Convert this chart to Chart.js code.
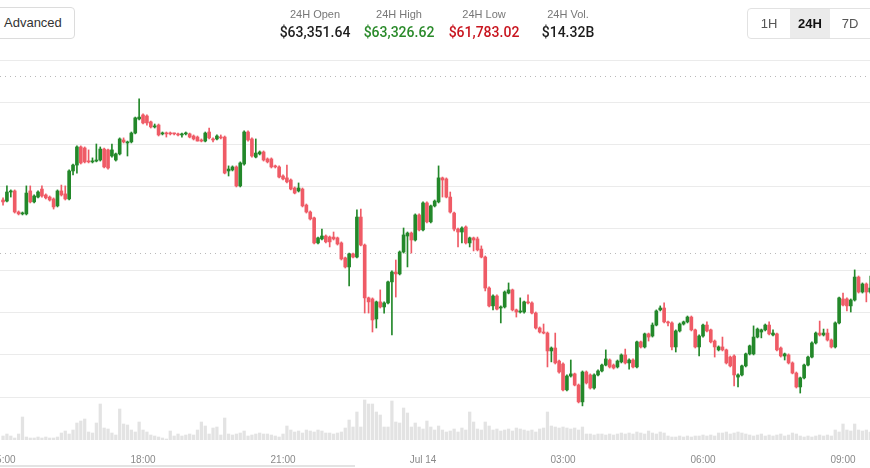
<!DOCTYPE html>
<html>
<head>
<meta charset="utf-8">
<script src="https://cdn.jsdelivr.net/npm/chart.js@4.4.1/dist/chart.umd.min.js"></script>
<style>
  body { margin: 0; background: #fff; font-family: 'Liberation Sans', Arial, Helvetica, sans-serif; }
  #wrap { position: relative; width: 870px; height: 468px; overflow: hidden; }
  #chart { position: absolute; left: 0; top: 0; }
  .btn-adv { position: absolute; left: -10px; top: 7px; width: 85px; height: 32px; box-sizing: border-box;
    border: 1px solid #dcdcdc; border-radius: 4px; background: #fff; color: #333; font-size: 13px;
    line-height: 30px; padding-left: 13px; }
  .stat { position: absolute; top: 0; width: 120px; text-align: center; }
  .stat .lbl { position: absolute; left: 0; right: 0; top: 8px; font-size: 11px; line-height: 13px; color: #777; }
  .stat .val { position: absolute; left: 0; right: 0; top: 24px; font-family: Roboto, 'Liberation Sans', Arial, sans-serif;
    font-weight: 500; font-size: 14px; line-height: 17px; color: #1d1d1d; }
  .range { position: absolute; left: 747px; top: 8px; width: 140px; height: 31px; box-sizing: border-box;
    border: 1px solid #e2e2e2; border-radius: 4px; background: #fff; }
  .range span { position: absolute; top: 0; height: 29px; line-height: 29px; text-align: center; font-size: 13px; color: #555; }
  .track { position: absolute; left: 0; top: 465px; width: 355px; height: 2px; background: #e3e3e3; }
</style>
</head>
<body>
<div id="wrap">
  <canvas id="chart" width="870" height="468"></canvas>
  <div class="btn-adv">Advanced</div>
  <div class="stat" style="left:255px"><div class="lbl">24H Open</div><div class="val">$63,351.64</div></div>
  <div class="stat" style="left:339px"><div class="lbl">24H High</div><div class="val" style="color:#2a8a2a">$63,326.62</div></div>
  <div class="stat" style="left:424px"><div class="lbl">24H Low</div><div class="val" style="color:#c8141e">$61,783.02</div></div>
  <div class="stat" style="left:508px"><div class="lbl">24H Vol.</div><div class="val">$14.32B</div></div>
  <div class="range">
    <span style="left:0;width:42px">1H</span>
    <span style="left:42px;width:40px;background:#ebebeb;color:#111;font-weight:bold">24H</span>
    <span style="left:82px;width:40px">7D</span>
  </div>
  <div class="track"></div>
</div>
<script>
// 5-minute candles, Jul 13 15:00 -> Jul 14 09:35 (minutes since Jul 13 00:00)
const startMinute = 900;
const stepMinutes = 5;

const open = [
  62736,62731,62774,62779,62679,62670,62670,62779,62727,62750,
  62788,62760,62750,62741,62708,62779,62765,62741,62874,62902,
  62988,62983,62921,62917,62921,62926,62978,62974,62945,62926,
  62955,63021,63007,63012,63054,63121,63140,63135,63107,63083,
  63092,63050,63054,63054,63054,63050,63045,63050,63050,63040,
  63035,63021,63016,63059,63026,63026,63035,63035,62874,62879,
  62893,62803,62907,63059,63026,62940,62955,62964,62931,62931,
  62898,62893,62850,62841,62831,62793,62779,62788,62712,62679,
  62651,62532,62551,62565,62560,62560,62556,62532,62461,62418,
  62480,62465,62655,62522,62271,62266,62171,62252,62228,62247,
  62347,62394,62385,62489,62565,62579,62546,62665,62594,62722,
  62632,62708,62727,62841,62836,62750,62674,62598,62584,62608,
  62532,62556,62551,62503,62465,62318,62233,62280,62223,62228,
  62294,62309,62214,62204,62204,62252,62247,62199,62128,62109,
  62104,62019,62033,61971,61957,61834,61900,61910,61857,61777,
  61919,61905,61843,61905,61924,61952,61976,61952,61943,61967,
  62000,61962,61976,61943,62062,62038,62100,62090,62142,62214,
  62223,62157,62152,62038,62114,62147,62157,62180,62119,62038,
  62090,62142,62119,62066,62024,62038,62024,61990,61995,61895,
  61905,61948,62005,62005,62085,62109,62119,62142,62095,62100,
  62033,61995,62000,61962,61914,61848,61891,61952,61990,62057,
  62104,62095,62104,62071,62038,62152,62266,62266,62233,62261,
  62370,62299,62337,62299
];
const high = [
  62746,62803,62784,62784,62684,62679,62803,62803,62760,62779,
  62803,62765,62755,62746,62784,62807,62803,62879,62907,62993,
  62993,62988,62974,62936,63002,62988,62983,62978,63002,62959,
  63031,63031,63016,63059,63130,63216,63145,63140,63111,63097,
  63097,63059,63059,63059,63054,63054,63054,63059,63054,63045,
  63040,63026,63059,63078,63031,63045,63045,63040,62898,62898,
  62898,62917,63064,63064,63031,63026,62969,62969,62936,62936,
  62902,62898,62855,62902,62836,62798,62817,62793,62717,62684,
  62655,62560,62598,62570,62565,62584,62560,62537,62465,62484,
  62484,62689,62693,62527,62275,62271,62256,62309,62252,62351,
  62399,62451,62494,62603,62584,62584,62670,62670,62727,62727,
  62712,62736,62898,62845,62841,62774,62679,62603,62608,62613,
  62560,62560,62560,62518,62470,62323,62285,62285,62233,62304,
  62342,62313,62218,62271,62256,62285,62252,62204,62133,62147,
  62109,62038,62104,61976,61962,61905,61976,61914,61862,61924,
  61924,61910,61910,61929,61957,62024,61981,61957,61976,62005,
  62028,61981,61981,62066,62066,62104,62104,62152,62214,62233,
  62247,62161,62157,62119,62152,62161,62185,62185,62123,62095,
  62147,62157,62123,62071,62043,62085,62028,61995,62000,61910,
  61952,62009,62047,62138,62128,62123,62147,62157,62119,62104,
  62038,62009,62005,61967,61919,61895,61957,61995,62062,62109,
  62161,62123,62123,62076,62157,62275,62294,62271,62266,62404,
  62375,62342,62342,62375
];
const low = [
  62712,62727,62750,62674,62665,62665,62665,62722,62722,62746,
  62750,62741,62731,62693,62703,62755,62736,62736,62855,62864,
  62907,62912,62912,62912,62917,62921,62888,62883,62940,62921,
  62950,63007,62945,63007,63050,63116,63097,63092,63078,63078,
  63040,63045,63035,63045,63045,63040,63035,63045,63031,63021,
  63016,63012,63012,63026,63012,63021,63026,62860,62850,62874,
  62798,62798,62902,63016,62940,62936,62950,62921,62912,62888,
  62888,62841,62831,62817,62784,62765,62774,62703,62674,62641,
  62527,62527,62546,62532,62513,62546,62522,62451,62413,62328,
  62461,62461,62518,62199,62199,62109,62128,62223,62199,62242,
  62095,62275,62380,62484,62418,62484,62541,62589,62589,62627,
  62627,62703,62722,62750,62746,62674,62589,62513,62532,62527,
  62513,62494,62494,62461,62304,62228,62214,62214,62152,62223,
  62290,62209,62180,62199,62199,62242,62195,62123,62104,62100,
  61943,61967,61957,61914,61829,61829,61895,61853,61772,61758,
  61862,61838,61838,61900,61919,61948,61938,61933,61938,61962,
  61957,61933,61938,61938,62033,62033,62066,62085,62138,62209,
  62152,62138,62024,62014,62109,62142,62152,62114,62033,61995,
  62085,62109,62057,61990,62019,62019,61957,61943,61853,61848,
  61900,61943,62000,62000,62081,62081,62114,62095,62090,62019,
  61990,61976,61957,61910,61843,61819,61886,61948,61986,62052,
  62090,62090,62066,62033,62033,62147,62233,62209,62204,62256,
  62294,62294,62252,62294
];
const close = [
  62727,62774,62779,62679,62670,62674,62769,62727,62755,62774,
  62755,62746,62736,62703,62779,62760,62741,62874,62902,62988,
  62912,62917,62917,62921,62926,62978,62893,62888,62974,62955,
  63026,63012,63012,63054,63126,63130,63102,63102,63083,63088,
  63045,63054,63050,63050,63050,63045,63050,63054,63035,63026,
  63016,63016,63054,63031,63021,63040,63031,62864,62883,62893,
  62803,62912,63059,63021,62945,62959,62964,62926,62917,62893,
  62893,62845,62836,62822,62788,62769,62793,62708,62679,62646,
  62532,62556,62565,62537,62537,62551,62527,62456,62418,62480,
  62465,62655,62522,62271,62252,62166,62252,62228,62247,62347,
  62394,62385,62489,62570,62579,62546,62665,62594,62722,62632,
  62708,62731,62841,62831,62750,62679,62598,62584,62603,62532,
  62556,62546,62499,62465,62318,62233,62280,62218,62228,62299,
  62309,62214,62204,62209,62252,62247,62199,62128,62109,62104,
  62019,62033,61962,61919,61834,61900,61910,61857,61777,61919,
  61867,61843,61905,61924,61952,61981,61943,61938,61971,62000,
  61962,61976,61943,62062,62038,62100,62085,62142,62209,62223,
  62157,62152,62038,62114,62147,62157,62180,62119,62038,62090,
  62142,62114,62062,62038,62038,62024,61962,61948,61905,61905,
  61948,62005,62043,62085,62123,62119,62142,62100,62104,62024,
  61995,62005,61962,61914,61848,61891,61952,61990,62057,62104,
  62095,62104,62071,62038,62152,62271,62237,62233,62261,62370,
  62299,62337,62299,62318
];
// BTC traded per candle
const volume = [
  40,60,40,20,60,230,30,20,20,30,
  20,30,20,20,30,70,90,60,100,170,
  190,210,80,70,170,360,120,110,70,50,
  310,160,150,100,80,180,100,80,50,40,
  30,20,10,90,40,60,40,50,60,50,
  100,180,140,60,120,130,50,220,60,50,
  60,70,90,40,50,60,70,60,60,50,
  40,30,60,140,100,80,90,70,100,90,
  80,100,90,70,70,60,70,80,120,200,
  130,280,130,400,360,360,280,250,130,130,
  390,180,170,320,270,130,170,130,110,190,
  130,100,140,100,80,90,110,80,120,100,
  280,180,110,100,180,140,100,110,90,100,
  110,90,120,110,100,90,100,80,110,120,
  280,140,130,120,130,120,110,120,100,130,
  60,60,50,60,60,50,60,50,60,70,
  60,70,60,80,70,60,90,70,60,80,
  70,40,30,30,40,30,40,30,40,40,
  50,40,50,40,70,70,80,60,70,80,
  70,60,50,40,50,60,40,50,40,50,
  60,40,50,70,60,40,30,40,30,40,
  50,40,50,40,100,80,160,100,90,160,
  100,90,100,80
];

const tickTimes = [900, 1080, 1260, 1440, 1620, 1800, 1980];
const tickLabels = ['15:00', '18:00', '21:00', 'Jul 14', '03:00', '06:00', '09:00'];
const priceGrid = [61800, 62000, 62200, 62400, 62600, 62800, 63000, 63200, 63400];
const dottedLevels = [63326.62, 62484];

const times = open.map((_, i) => startMinute + i * stepMinutes);
const upColor = '#23882a';
const downColor = '#ef5b66';
const candleColor = ctx => close[ctx.dataIndex] >= open[ctx.dataIndex] ? upColor : downColor;

Chart.defaults.font.family = "'Liberation Sans', Arial, Helvetica, sans-serif";

// dotted reference lines behind the candles
const dottedLines = {
    id: 'dottedLines',
    beforeDatasetsDraw(chart) {
        const { ctx, chartArea, scales } = chart;
        ctx.save();
        ctx.strokeStyle = '#b9b9b9';
        ctx.lineWidth = 1;
        ctx.setLineDash([1, 4]);
        dottedLevels.forEach(v => {
            const y = Math.round(scales.y.getPixelForValue(v)) + 0.5;
            ctx.beginPath();
            ctx.moveTo(chartArea.left, y);
            ctx.lineTo(chartArea.right, y);
            ctx.stroke();
        });
        ctx.restore();
    }
};

const data = {
    datasets: [{
        label: 'Volume',
        data: times.map((t, i) => ({ x: t, y: volume[i] })),
        yAxisID: 'yv',
        backgroundColor: '#e3e3e3',
        barThickness: 2.6,
        grouped: false,
        order: 3
    }, {
        label: 'Wick',
        data: times.map((t, i) => ({ x: t, y: [low[i], high[i]] })),
        yAxisID: 'y',
        backgroundColor: candleColor,
        barThickness: 1,
        grouped: false,
        order: 2
    }, {
        label: 'Body',
        data: times.map((t, i) => ({ x: t, y: [open[i], close[i]] })),
        yAxisID: 'y',
        backgroundColor: candleColor,
        barThickness: 3,
        minBarLength: 1,
        grouped: false,
        order: 1
    }]
};

const config = {
    type: 'bar',
    data,
    options: {
        responsive: false,
        animation: false,
        layout: { padding: { top: 50, left: 0, right: 0, bottom: 0 } },
        plugins: {
            legend: { display: false },
            tooltip: { enabled: false }
        },
        scales: {
            x: {
                type: 'linear',
                offset: false,
                min: 896.1,
                max: 2014.7,
                grid: { display: false },
                border: { display: false },
                afterBuildTicks: scale => { scale.ticks = tickTimes.map(v => ({ value: v })); },
                afterFit: scale => { scale.height = 28; scale.paddingLeft = 0; scale.paddingRight = 0; },
                ticks: {
                    autoSkip: false,
                    maxRotation: 0,
                    padding: 6,
                    color: '#8a8a8a',
                    font: { size: 10 },
                    callback: v => tickLabels[tickTimes.indexOf(v)]
                }
            },
            y: {
                min: 61596,
                max: 63448.5,
                afterBuildTicks: scale => { scale.ticks = priceGrid.map(v => ({ value: v })); },
                ticks: { display: false },
                grid: { color: '#ebebeb', drawTicks: false },
                border: { display: false }
            },
            yv: {
                min: 0,
                max: 3900,
                display: false
            }
        }
    },
    plugins: [dottedLines]
};

const priceChart = new Chart(document.getElementById('chart'), config);
</script>
</body>
</html>
